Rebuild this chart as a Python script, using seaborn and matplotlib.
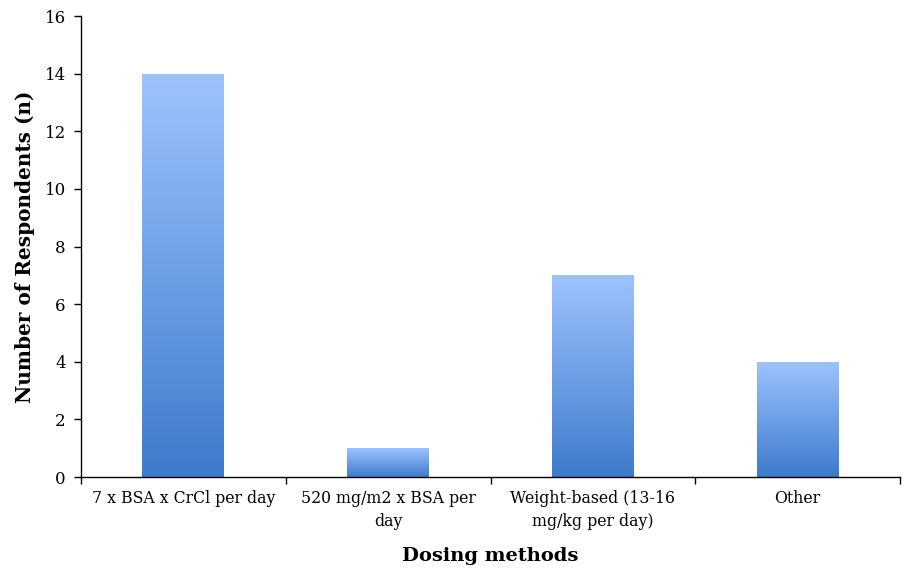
import numpy as np
import pandas as pd
import matplotlib
matplotlib.use("Agg")
import matplotlib.pyplot as plt
import seaborn as sns
from matplotlib.colors import LinearSegmentedColormap
from matplotlib.ticker import FixedLocator

categories = ["7 x BSA x CrCl per day", "520 mg/m2 x BSA per\nday",
              "Weight-based (13-16\nmg/kg per day)", "Other"]
respondents = [14, 1, 7, 4]
y_ticks = [0, 2, 4, 6, 8, 10, 12, 14, 16]

sns.set_theme(style="white")
plt.rcParams["font.family"] = ["DejaVu Serif"]
plt.rcParams["text.color"] = "black"
plt.rcParams["axes.labelcolor"] = "black"
plt.rcParams["xtick.color"] = "black"
plt.rcParams["ytick.color"] = "black"

df = pd.DataFrame({"method": categories, "n": respondents})

fig = plt.figure(figsize=(9.04, 5.73), dpi=100)
ax = fig.add_axes([0.0896, 0.1675, 0.906, 0.8045])

sns.barplot(data=df, x="method", y="n", ax=ax, width=0.4, color="#6A9BE6",
            edgecolor="none")

# vertical gradient fill for each bar: light blue at top, deeper blue at bottom
grad = LinearSegmentedColormap.from_list("bar_grad", ["#3E7BCC", "#9DC3FE"])
gradient = np.linspace(0, 1, 256).reshape(-1, 1)
for patch in ax.patches:
    x0, y0 = patch.get_x(), patch.get_y()
    w, h = patch.get_width(), patch.get_height()
    patch.set_facecolor("none")
    im = ax.imshow(gradient, cmap=grad, aspect="auto", origin="lower",
                   extent=[x0, x0 + w, y0, y0 + h], zorder=2)
    im.set_clip_path(patch)

ax.set_xlim(-0.5, len(categories) - 0.5)
ax.set_ylim(0, 16)
ax.set_yticks(y_ticks)

for side in ["top", "right"]:
    ax.spines[side].set_visible(False)
for side in ["left", "bottom"]:
    ax.spines[side].set_color("black")
    ax.spines[side].set_linewidth(1.0)

ax.tick_params(axis="y", which="major", direction="out", length=5, width=1,
               color="black", left=True, labelsize=12, pad=6)
ax.tick_params(axis="x", which="major", length=0, labelsize=11.3, pad=9)
for lbl in ax.get_xticklabels():
    lbl.set_linespacing(1.5)
ax.xaxis.set_minor_locator(FixedLocator(np.arange(-0.5, len(categories), 1.0)))
ax.tick_params(axis="x", which="minor", direction="out", length=5, width=1,
               color="black", bottom=True)

ax.set_xlabel("Dosing methods", fontsize=14, fontweight="bold", labelpad=12)
ax.set_ylabel("Number of Respondents (n)", fontsize=14.4, fontweight="bold",
              labelpad=7)

fig.savefig("out.png", dpi=100)
